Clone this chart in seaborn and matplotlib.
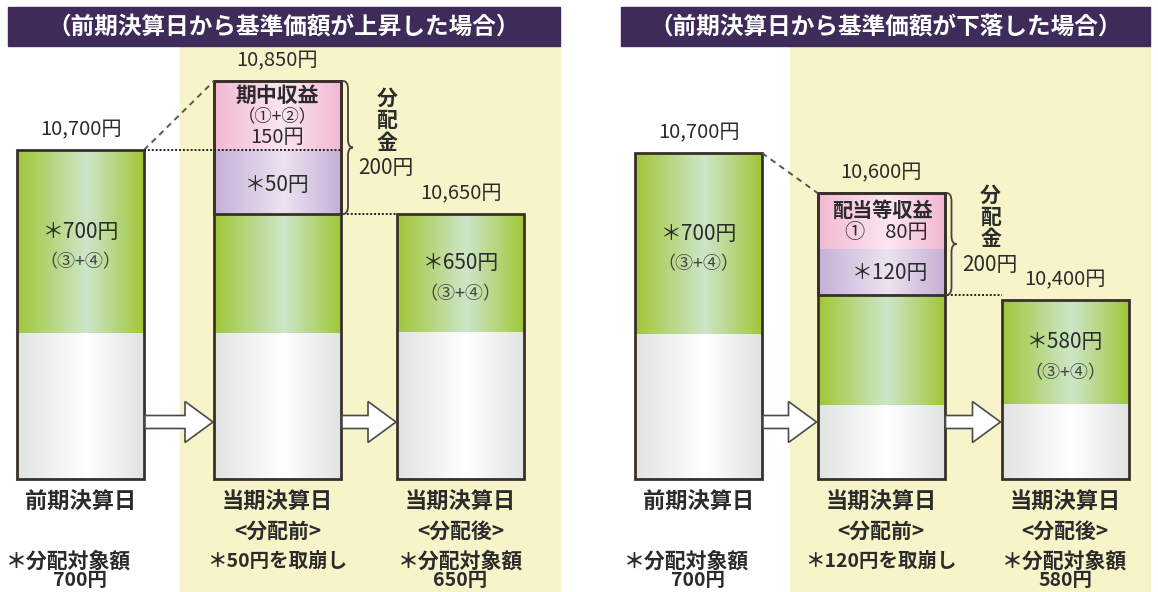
import numpy as np
import matplotlib
matplotlib.use("Agg")
import matplotlib.pyplot as plt
import seaborn as sns
from matplotlib.colors import LinearSegmentedColormap
from matplotlib.patches import FancyArrow, PathPatch, Rectangle
from matplotlib.path import Path

sns.set_theme(style="white")
plt.rcParams['font.family'] = ['Noto Sans CJK JP', 'DejaVu Sans']

# ---- data: schematic segment heights (px) ----
stage_names = ["前期決算日", "当期決算日", "当期決算日"]
stage_subs = ["", "<分配前>", "<分配後>"]

up_title = "（前期決算日から基準価額が上昇した場合）"
up_nav = ["10,700円", "10,850円", "10,650円"]
up_white = [146, 146, 147]
up_green = [183, 119, 118]
up_purple = [0, 64, 0]
up_pink = [0, 69, 0]
up_green_text = ["＊700円", "", "＊650円"]
up_pink_text = ["期中収益", "（①+②）", "150円"]
up_purple_text = "＊50円"
up_notes = [["＊分配対象額", "700円"], ["＊50円を取崩し"], ["＊分配対象額", "650円"]]

down_title = "（前期決算日から基準価額が下落した場合）"
down_nav = ["10,700円", "10,600円", "10,400円"]
down_white = [145, 74, 75]
down_green = [181, 110, 104]
down_purple = [0, 46, 0]
down_pink = [0, 56, 0]
down_green_text = ["＊700円", "", "＊580円"]
down_pink_text = ["配当等収益", "①　80円"]
down_purple_text = "＊120円"
down_notes = [["＊分配対象額", "700円"], ["＊120円を取崩し"], ["＊分配対象額", "580円"]]

dist_label = "分\n配\n金"
dist_amount = "200円"
sum_label = "（③+④）"

# ---- layout ----
BASE = 479
BAR_W = 127
up_x = [80.5, 277.5, 460.5]
down_x = [698.5, 881, 1065]
TXT = "#2b2b2b"
EDGE = "#3a302b"

colors = {
    "white": ("#e1e3e3", "#ffffff"),
    "green": ("#a0c738", "#cde6c9"),
    "purple": ("#c5b0d6", "#ece3f1"),
    "pink": ("#f2b8d3", "#fce6f0"),
}


def grad_fill(ax, patch, edge, center):
    x0, y0 = patch.get_x(), patch.get_y()
    w, h = patch.get_width(), patch.get_height()
    cmap = LinearSegmentedColormap.from_list("g", [(0, edge), (0.55, center), (1, edge)])
    grad = np.linspace(0, 1, 256).reshape(1, -1)
    im = ax.imshow(grad, cmap=cmap, extent=[x0, x0 + w, y0 + h, y0],
                   aspect="auto", zorder=2, interpolation="bilinear")
    im.set_clip_path(patch)


def brace(ax, x, y0, y1, w=10):
    ym = (y0 + y1) / 2
    r = 8
    verts = [(x, y0), (x + w / 2, y0), (x + w / 2, y0 + r),
             (x + w / 2, ym - r),
             (x + w / 2, ym), (x + w, ym),
             (x + w / 2, ym), (x + w / 2, ym + r),
             (x + w / 2, y1 - r),
             (x + w / 2, y1), (x, y1)]
    codes = [Path.MOVETO, Path.CURVE3, Path.CURVE3, Path.LINETO,
             Path.CURVE3, Path.CURVE3, Path.CURVE3, Path.CURVE3,
             Path.LINETO, Path.CURVE3, Path.CURVE3]
    ax.add_patch(PathPatch(Path(verts, codes), fill=False, ec="#4a4040", lw=1.3, zorder=4))


def draw_panel(ax, xs, white, green, purple, pink, nav, green_text, notes,
               title, tx0, tx1, yel0, yel1):
    # backgrounds
    ax.add_patch(Rectangle((yel0, 46), yel1 - yel0, 546, color="#f7f4c9", zorder=0))
    ax.add_patch(Rectangle((tx0, 7), tx1 - tx0, 39, color="#3f2b5a", zorder=1))
    ax.text((tx0 + tx1) / 2, 27, title, color="white", fontsize=17,
            fontweight="bold", ha="center", va="center", zorder=5)

    segs = [("white", white), ("green", green), ("purple", purple), ("pink", pink)]
    cum = np.zeros(3)
    for name, vals in segs:
        vals = np.array(vals, dtype=float)
        top = BASE - cum - vals
        bars = ax.bar(xs, vals, bottom=top, width=BAR_W, color=colors[name][0],
                      lw=0, zorder=2)
        for p, v in zip(bars.patches, vals):
            if v > 0:
                grad_fill(ax, p, *colors[name])
        cum = cum + vals
    total = cum
    # outlines
    ax.bar(xs, total, bottom=BASE - total, width=BAR_W, fill=False,
           edgecolor=EDGE, lw=2, zorder=3)
    dist = np.array(purple) + np.array(pink)
    ax.bar(xs[1], dist[1], bottom=BASE - total[1], width=BAR_W, fill=False,
           edgecolor=EDGE, lw=2, zorder=3)

    left = [x - BAR_W / 2 for x in xs]
    right = [x + BAR_W / 2 for x in xs]

    # NAV labels
    for x, t, lab in zip(xs, BASE - total, nav):
        ax.text(x, t - 20, lab, fontsize=14.5, color=TXT, ha="center", va="center", zorder=5)

    # green texts
    for i, lab in enumerate(green_text):
        if lab:
            mid = BASE - white[i] - green[i] / 2
            ax.text(xs[i], mid - 10, lab, fontsize=15, color=TXT, ha="center", va="center", zorder=5)
            ax.text(xs[i], mid + 21, sum_label, fontsize=13, color="#444444", ha="center", va="center", zorder=5)

    # dashed diagonal from previous NAV to current NAV
    ax.plot([right[0], left[1]], [BASE - total[0], BASE - total[1]],
            ls=(0, (3, 2.5)), color="#555555", lw=1.4, zorder=4)
    # dotted line to the NAV after distribution
    dist_bottom = BASE - total[1] + dist[1]
    ax.plot([right[1] + 2, left[2]], [dist_bottom, dist_bottom],
            ls=(0, (1, 1)), color="#222222", lw=1.4, zorder=4)

    # brace + 分配金
    bx = right[1] + 2
    brace(ax, bx, BASE - total[1], dist_bottom)
    bm = (BASE - total[1] + dist_bottom) / 2
    ax.text(bx + 44, bm - 27, dist_label, fontsize=15, fontweight="bold", color=TXT,
            ha="center", va="center", linespacing=1.05, zorder=5)
    ax.text(bx + 43, bm + 21, dist_amount, fontsize=15, color=TXT,
            ha="center", va="center", zorder=5)

    # arrows between bars
    for i in range(2):
        ax.add_patch(FancyArrow(right[i] + 1, 422, left[i + 1] - right[i] - 2, 0,
                                width=13, head_width=41, head_length=28,
                                length_includes_head=True, fc="white", ec="#4a4a4a",
                                lw=1.2, zorder=4))

    # stage labels and notes
    for i, x in enumerate(xs):
        ax.text(x, 502, stage_names[i], fontsize=16, fontweight="bold", color=TXT,
                ha="center", va="center", zorder=5)
        if stage_subs[i]:
            ax.text(x, 531, stage_subs[i], fontsize=15, fontweight="bold", color=TXT,
                    ha="center", va="center", zorder=5)
        for j, line in enumerate(notes[i]):
            ax.text(x - (12 if i == 0 and j == 0 else 0), 561 + 20 * j, line,
                    fontsize=14 if (len(notes[i]) == 1 or j == 1) else 15, fontweight="bold",
                    color=TXT, ha="center", va="center", zorder=5)
    return total, dist


fig = plt.figure(figsize=(11.58, 5.92), dpi=100)
ax = fig.add_axes([0, 0, 1, 1])
ax.set_xlim(0, 1158)
ax.set_ylim(592, 0)

total, dist = draw_panel(ax, up_x, up_white, up_green, up_purple, up_pink, up_nav,
                         up_green_text, up_notes, up_title, 8, 560, 180, 560)
# horizontal dotted line: previous NAV level across the current bar
ax.plot([up_x[0] + BAR_W / 2, up_x[1] + BAR_W / 2], [BASE - total[0]] * 2,
        ls=(0, (1, 1)), color="#222222", lw=1.4, zorder=4)
pmid = BASE - total[1] + up_pink[1] / 2
for k, (lab, fs, fw) in enumerate(zip(up_pink_text, [15, 12.5, 14.5], ["bold", "normal", "normal"])):
    ax.text(up_x[1], pmid - 20 + 21 * k, lab, fontsize=fs, fontweight=fw, color=TXT,
            ha="center", va="center", zorder=5)
umid = BASE - up_white[1] - up_green[1] - up_purple[1] / 2
ax.text(up_x[1], umid + 3, up_purple_text, fontsize=15, color=TXT, ha="center", va="center", zorder=5)

total, dist = draw_panel(ax, down_x, down_white, down_green, down_purple, down_pink, down_nav,
                         down_green_text, down_notes, down_title, 621, 1150, 790, 1150)
pmid = BASE - total[1] + down_pink[1] / 2
ax.text(down_x[1] + 1, pmid - 11, down_pink_text[0], fontsize=14.5, fontweight="bold", color=TXT,
        ha="center", va="center", zorder=5)
ax.text(down_x[1] + 47, pmid + 12, down_pink_text[1], fontsize=14.5, color=TXT,
        ha="right", va="center", zorder=5)
dmid = BASE - down_white[1] - down_green[1] - down_purple[1] / 2
ax.text(down_x[1] + 47, dmid + 1, down_purple_text, fontsize=15, color=TXT,
        ha="right", va="center", zorder=5)

ax.axis("off")
fig.savefig("out.png", dpi=100)
